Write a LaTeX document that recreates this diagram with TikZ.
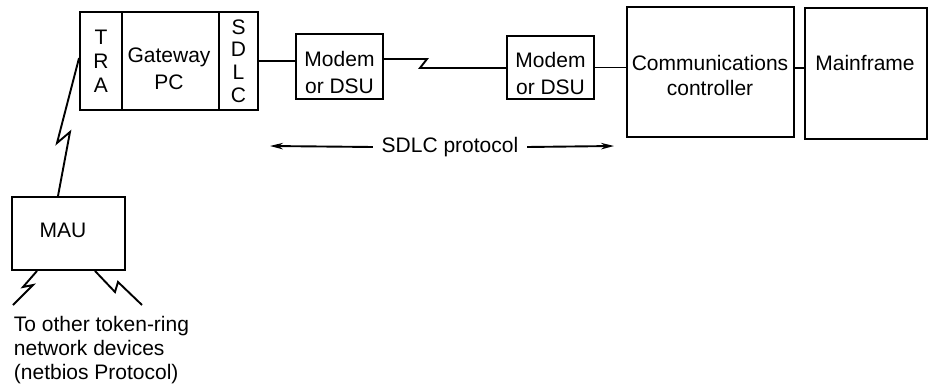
\documentclass[tikz,border=0pt]{standalone}
\usepackage{fontspec}
\setmainfont{Liberation Sans}
\usetikzlibrary{arrows.meta}
\begin{document}
\begin{tikzpicture}[x=1pt,y=-1pt,line width=1.9pt,>={Stealth[length=13pt,width=6.5pt]},
    box/.style={rectangle,draw,inner sep=0pt,font=\fontsize{21}{27}\selectfont,align=center},
    txt/.style={inner sep=0pt,font=\fontsize{21}{27}\selectfont,align=center}]
    \useasboundingbox (0,0) rectangle (928,387);

    % gateway PC with its two adapter cards
    \node [box, minimum width=42pt, minimum height=98pt, font=\fontsize{21}{24}\selectfont](tra) at (101,61){T\\R\\A};
    \node [box, minimum width=97pt, minimum height=98pt](gw) at (170.5,61){};
    \node [box, minimum width=39pt, minimum height=98pt, font=\fontsize{21}{22.6}\selectfont](sdlc) at (238.5,61){S\\D\\L\\C};
    \node [txt](gwtext) at (169,69){Gateway\\PC};

    \node [box, minimum width=87pt, minimum height=65pt](m1) at (339.5,66.5){};
    \node [txt](m1text) at (339.5,72){Modem\\or DSU};
    \node [box, minimum width=87pt, minimum height=63pt](m2) at (550.5,67.5){};
    \node [txt](m2text) at (550.5,73){Modem\\or DSU};

    \node [box, minimum width=167pt, minimum height=130pt](cc) at (710.5,72){};
    \node [txt, font=\fontsize{21}{25}\selectfont](cctext) at (710,75){Communications\\controller};
    \node [box, minimum width=122pt, minimum height=131pt](mf) at (866,73.5){};
    \node [txt](mftext) at (865,63){Mainframe};

    \node [box, minimum width=113pt, minimum height=73pt](mau) at (68.5,233.5){};
    \node [txt](mautext) at (63,230){MAU};
    \node [txt, align=left, anchor=west, font=\fontsize{21}{24}\selectfont](devs) at (13,350){To other token-ring\\network devices\\(netbios Protocol)};

    \node [txt](proto) at (450,147){SDLC protocol};
    \coordinate (pl) at (270,146);
    \coordinate (pr) at (614,146);

    % line kinks
    \coordinate (z1) at (427,59);
    \coordinate (z2) at (420,68);
    \coordinate (t1) at (70,132);
    \coordinate (t2) at (57,143);
    \coordinate (l1) at (23,287);
    \coordinate (l2) at (33,285);
    \coordinate (l3) at (13,305);
    \coordinate (r1) at (115,292);
    \coordinate (r2) at (118,282);
    \coordinate (r3) at (142,305);

    \draw (sdlc.east) -- (sdlc.east -| m1.west);
    \draw ([yshift=7.5pt]m1.east) -- (z1) -- (z2) -- (z2 -| m2.west);
    \draw (m2.east) -- (m2.east -| cc.west);
    \draw ([yshift=4pt]cc.east) -- ([yshift=4pt]cc.east -| mf.west);

    \draw ([xshift=-10.5pt]mau.north) -- (t1) -- (t2) -- ([yshift=3pt]tra.west);
    \draw ([xshift=-31.5pt]mau.south) -- (l1) -- (l2) -- (l3);
    \draw ([xshift=26.5pt]mau.south) -- (r1) -- (r2) -- (r3);

    \draw [->] ([xshift=-8pt]proto.west) -- (pl);
    \draw [->] ([xshift=8pt]proto.east) -- (pr);
\end{tikzpicture}
\end{document}
